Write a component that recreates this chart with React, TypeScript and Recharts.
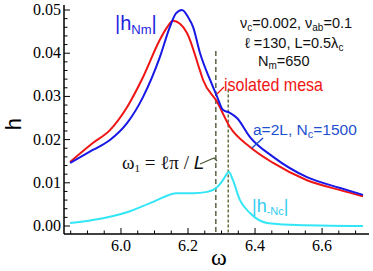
import React from "react";
import { LineChart, Line, XAxis, YAxis, ReferenceLine } from "recharts";

// isolated mesa (red)
const OMEGA_RED = [5.848, 5.916, 5.967, 6.018, 6.066, 6.116, 6.136, 6.155, 6.176, 6.197, 6.236, 6.245, 6.287, 6.325, 6.385, 6.454, 6.555, 6.654, 6.722];
const H_RED = [0.0148, 0.0192, 0.0222, 0.0275, 0.0345, 0.0431, 0.0458, 0.0475, 0.0468, 0.0447, 0.0359, 0.0338, 0.0287, 0.0229, 0.0183, 0.0146, 0.0106, 0.0083, 0.0069];

// |h_Nm| (blue)
const OMEGA_BLUE = [5.848, 5.916, 5.967, 6.018, 6.066, 6.116, 6.146, 6.164, 6.182, 6.2, 6.215, 6.236, 6.266, 6.287, 6.304, 6.325, 6.346, 6.385, 6.454, 6.555, 6.654, 6.722];
const H_BLUE = [0.0146, 0.0176, 0.0199, 0.0238, 0.0299, 0.0391, 0.0461, 0.0492, 0.05, 0.0484, 0.0461, 0.04, 0.0338, 0.0299, 0.0269, 0.0262, 0.025, 0.0206, 0.016, 0.0113, 0.0088, 0.0072];

// |h_-Nc| (cyan)
const OMEGA_CYAN = [5.848, 5.916, 6.018, 6.096, 6.167, 6.215, 6.257, 6.287, 6.304, 6.322, 6.334, 6.355, 6.385, 6.436, 6.504, 6.722];
const H_CYAN = [0.0007, 0.0014, 0.0032, 0.0056, 0.0076, 0.0076, 0.0079, 0.009, 0.0106, 0.0125, 0.0106, 0.006, 0.003, 0.0007, 0.0003, 0.0];

// dashed markers: omega, top of line
const MARK_OMEGA = [6.283, 6.32];
const MARK_TOP = [0.0405, 0.0316];

const X_TICKS = [5.85, 5.9, 5.95, 6.0, 6.05, 6.1, 6.15, 6.2, 6.25, 6.3, 6.35, 6.4, 6.45, 6.5, 6.55, 6.6, 6.65, 6.7];
const X_MAJOR = [6.0, 6.2, 6.4, 6.6];
const Y_TICKS = [0, 0.002, 0.004, 0.006, 0.008, 0.01, 0.012, 0.014, 0.016, 0.018, 0.02, 0.022, 0.024, 0.026, 0.028, 0.03, 0.032, 0.034, 0.036, 0.038, 0.04, 0.042, 0.044, 0.046, 0.048, 0.05];
const Y_MAJOR = [0, 0.01, 0.02, 0.03, 0.04, 0.05];

const X_DOMAIN = [5.83, 6.74];
const Y_DOMAIN = [-0.00185, 0.05116];

function toPoints(xs: number[], ys: number[]) {
  var out: { w: number; h: number }[] = [];
  for (var i = 0; i < xs.length; i++) {
    out.push({ w: xs[i], h: ys[i] });
  }
  return out;
}

const redData = toPoints(OMEGA_RED, H_RED);
const blueData = toPoints(OMEGA_BLUE, H_BLUE);
const cyanData = toPoints(OMEGA_CYAN, H_CYAN);

function isIn(list: number[], v: number) {
  for (var i = 0; i < list.length; i++) {
    if (Math.abs(list[i] - v) < 1e-9) return true;
  }
  return false;
}

const TICK_FONT = "'Liberation Serif', 'Times New Roman', serif";
const SANS = "'Liberation Sans', Arial, sans-serif";

function LeftTick(props: any) {
  var major = isIn(Y_MAJOR, props.payload.value);
  var len = major ? 6 : 3.5;
  return (
    <g>
      <line x1={props.x} y1={props.y} x2={props.x + len} y2={props.y} stroke="#000" strokeWidth={1} />
      {major && (
        <text x={props.x - 3} y={props.y + 5} textAnchor="end" fontFamily={TICK_FONT} fontSize={16} fill="#000">
          {props.payload.value.toFixed(2)}
        </text>
      )}
    </g>
  );
}

function RightTick(props: any) {
  var major = isIn(Y_MAJOR, props.payload.value);
  var len = major ? 6 : 3.5;
  return <line x1={props.x} y1={props.y} x2={props.x - len} y2={props.y} stroke="#000" strokeWidth={1} />;
}

function BottomTick(props: any) {
  var major = isIn(X_MAJOR, props.payload.value);
  var len = major ? 6 : 3.5;
  return (
    <g>
      <line x1={props.x} y1={props.y} x2={props.x} y2={props.y - len} stroke="#000" strokeWidth={1} />
      {major && (
        <text x={props.x} y={props.y + 17} textAnchor="middle" fontFamily={TICK_FONT} fontSize={16} fill="#000">
          {props.payload.value.toFixed(1)}
        </text>
      )}
    </g>
  );
}

function TopTick(props: any) {
  var major = isIn(X_MAJOR, props.payload.value);
  var len = major ? 6 : 3.5;
  return <line x1={props.x} y1={props.y} x2={props.x} y2={props.y + len} stroke="#000" strokeWidth={1} />;
}

const axisLine = { stroke: "#000", strokeWidth: 1.5 };

export default function App() {
  return (
    <div style={{ position: "absolute", left: 0, top: 0, width: 373, height: 271, background: "#fff" }}>
      <LineChart width={373} height={271} margin={{ top: 5, right: 4, left: 0, bottom: 0 }}>
        <XAxis xAxisId="b" type="number" dataKey="w" domain={X_DOMAIN} ticks={X_TICKS} interval={0}
          allowDataOverflow height={37} tickLine={false} tickSize={0} tickMargin={0}
          axisLine={axisLine} tick={<BottomTick />} />
        <XAxis xAxisId="t" orientation="top" type="number" dataKey="w" domain={X_DOMAIN} ticks={X_TICKS} interval={0}
          allowDataOverflow height={0} tickLine={false} tickSize={0} tickMargin={0}
          axisLine={axisLine} tick={<TopTick />} />
        <YAxis yAxisId="l" type="number" domain={Y_DOMAIN} ticks={Y_TICKS} interval={0}
          allowDataOverflow width={64} tickLine={false} tickSize={0} tickMargin={0}
          axisLine={axisLine} tick={<LeftTick />} />
        <YAxis yAxisId="r" orientation="right" type="number" domain={Y_DOMAIN} ticks={Y_TICKS} interval={0}
          allowDataOverflow width={0} tickLine={false} tickSize={0} tickMargin={0}
          axisLine={axisLine} tick={<RightTick />} />

        <ReferenceLine xAxisId="b" yAxisId="l" ifOverflow="visible"
          segment={[{ x: MARK_OMEGA[0], y: MARK_TOP[0] }, { x: MARK_OMEGA[0], y: Y_DOMAIN[0] }]}
          stroke="#4b5a38" strokeWidth={1.4} strokeDasharray="5 3" />
        <ReferenceLine xAxisId="b" yAxisId="l" ifOverflow="visible"
          segment={[{ x: MARK_OMEGA[1], y: MARK_TOP[1] }, { x: MARK_OMEGA[1], y: Y_DOMAIN[0] }]}
          stroke="#5b6535" strokeWidth={1.4} strokeDasharray="3 2" />

        <Line xAxisId="b" yAxisId="l" data={cyanData} dataKey="h" type="monotone" stroke="#33e6f6"
          strokeWidth={2} dot={false} isAnimationActive={false} />
        <Line xAxisId="b" yAxisId="l" data={redData} dataKey="h" type="monotone" stroke="#f01515"
          strokeWidth={2} dot={false} isAnimationActive={false} />
        <Line xAxisId="b" yAxisId="l" data={blueData} dataKey="h" type="monotone" stroke="#1818e6"
          strokeWidth={2} dot={false} isAnimationActive={false} />
      </LineChart>

      <svg width={373} height={271} style={{ position: "absolute", left: 0, top: 0, pointerEvents: "none" }}>
        {/* axis titles */}
        <text x={21} y={124} transform="rotate(-90 21 124)" textAnchor="middle" fontFamily={SANS} fontSize={22} fill="#000">h</text>
        <text x={219} y={265} textAnchor="middle" fontFamily={TICK_FONT} fontSize={24} fill="#000">ω</text>

        {/* |h_Nm| */}
        <text x={115} y={30} fontFamily={SANS} fontSize={20} fill="#2222e0">
          |h<tspan fontSize={13} dy={4}>Nm</tspan><tspan dy={-4}>|</tspan>
        </text>

        {/* parameters */}
        <text x={240} y={28} fontFamily={SANS} fontSize={14.5} fill="#111">
          ν<tspan fontSize={10} dy={3}>c</tspan><tspan dy={-3}>=0.002, ν</tspan><tspan fontSize={10} dy={3}>ab</tspan><tspan dy={-3}>=0.1</tspan>
        </text>
        <text x={245} y={48} fontFamily={SANS} fontSize={14.5} fill="#111">
          ℓ =130, L=0.5λ<tspan fontSize={10} dy={3}>c</tspan>
        </text>
        <text x={258} y={66} fontFamily={SANS} fontSize={14.5} fill="#111">
          N<tspan fontSize={10} dy={3}>m</tspan><tspan dy={-3}>=650</tspan>
        </text>

        {/* isolated mesa */}
        <line x1={217} y1={94} x2={224} y2={87} stroke="#f01515" strokeWidth={1.3} />
        <text x={224} y={91} fontFamily={SANS} fontSize={19} fill="#f01515" textLength={99} lengthAdjust="spacingAndGlyphs">isolated mesa</text>

        {/* a=2L, Nc=1500 */}
        <line x1={263} y1={138} x2={252} y2={148} stroke="#1f4fd0" strokeWidth={1.5} />
        <text x={253} y={135} fontFamily={SANS} fontSize={15.5} fill="#1f4fd0">
          a=2L, N<tspan fontSize={11} dy={3}>c</tspan><tspan dy={-3}>=1500</tspan>
        </text>

        {/* omega_1 */}
        <polyline points="200,164 214,158 217,161" fill="none" stroke="#4b5a38" strokeWidth={1.2} />
        <text x={122} y={169} fontFamily={TICK_FONT} fontSize={19} fill="#111">
          ω<tspan fontSize={11} dy={3}>1</tspan><tspan dy={-3}> = ℓπ / </tspan><tspan fontFamily={SANS} fontStyle="italic">L</tspan>
        </text>

        {/* |h_-Nc| */}
        <text x={252} y={212} fontFamily={SANS} fontSize={18} fill="#33ccf0">
          |h<tspan fontSize={11} dy={3}>-Nc</tspan><tspan dy={-3}>|</tspan>
        </text>
      </svg>
    </div>
  );
}
